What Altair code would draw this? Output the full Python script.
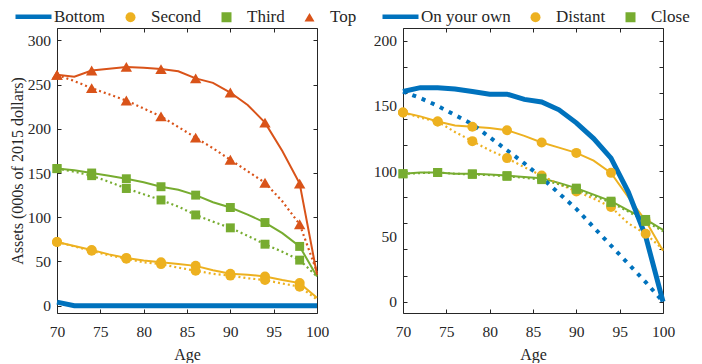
import altair as alt
import pandas as pd

# ---------------- data ----------------
ages = list(range(70, 101, 2))
marker_ages = list(range(70, 99, 4))

names = ["Bottom", "Second", "Third", "Top", "On your own", "Distant", "Close"]
colors = ["#0072BD", "#EDB120", "#77AC30", "#D95319", "#0072BD", "#EDB120", "#77AC30"]
LINE_SYMBOL = "M-3.6,0H3.6"
shapes = [LINE_SYMBOL, "circle", "square", "triangle-up", LINE_SYMBOL, "circle", "square"]
thick = ["Bottom", "On your own"]

# left panel: by wealth quartile (solid / dotted)
bottom_solid = [4, 0, 0, 0, 0, 0, 0, 0, 0, 0, 0, 0, 0, 0, 0, 0]
second_solid = [72, 67.5, 63, 58, 54, 51, 49, 47, 45, 40, 36, 35, 33, 29, 25.5, 9]
second_dotted = [72, 67, 62, 57, 53, 49, 47, 43, 39.5, 36, 34, 31, 29, 25, 21.5, 7]
third_solid = [155, 153, 150, 147, 143.5, 139.5, 134.5, 131, 125, 117, 111, 103, 94, 82, 67, 33]
third_dotted = [155, 151.5, 147, 140, 132.5, 126, 119.5, 112, 102.6, 95, 88, 79, 69.5, 61, 51.5, 33]
top_solid = [261, 259, 266, 268, 270, 269, 267.5, 265, 257, 252, 241, 227, 207, 175, 138, 35]
top_dotted = [261, 254, 246, 239, 232, 223, 214, 202, 190, 178, 165, 152, 139, 118, 92, 38]

# right panel: by family proximity (solid / dotted)
own_solid = [161, 164, 164, 163, 161, 159, 159, 155, 153, 147, 137, 125, 110, 84, 50, 0]
own_dotted = [161, 156, 150, 143, 136, 126, 116, 106, 95, 83, 71, 57, 43, 29, 15, 0]
distant_solid = [145, 142, 138, 135, 134, 133, 131.4, 127, 122, 118, 114, 108, 98.7, 80, 62, 39]
distant_dotted = [145, 141, 138, 130, 123, 116, 110, 103, 96.6, 90, 84.5, 79, 72.5, 60, 52, 40]
close_solid = [98, 99, 99, 98, 98, 97.5, 96.6, 95.5, 94.6, 91, 87, 82, 77, 70, 63, 55]
close_dotted = [98, 98.5, 99, 98, 97.5, 97, 96, 95, 93.5, 90, 86, 81, 76, 69, 61.5, 54]

x_ticks = [70, 75, 80, 85, 90, 95, 100]
left_ticks = [0, 50, 100, 150, 200, 250, 300]
right_ticks = [0, 50, 100, 150, 200]
y_title = "Assets (000s of 2015 dollars)"
x_title = "Age"

# ---------------- table ----------------
rows = []


def add(panel, series, style, vals):
    for a, v in zip(ages, vals):
        rows.append(dict(panel=panel, series=series, style=style, age=a, value=v,
                         marker=(a in marker_ages) and (series not in thick)))


add("L", "Bottom", "solid", bottom_solid)
add("L", "Second", "solid", second_solid)
add("L", "Second", "dotted", second_dotted)
add("L", "Third", "solid", third_solid)
add("L", "Third", "dotted", third_dotted)
add("L", "Top", "solid", top_solid)
add("L", "Top", "dotted", top_dotted)
add("R", "On your own", "solid", own_solid)
add("R", "On your own", "dotted", own_dotted)
add("R", "Distant", "solid", distant_solid)
add("R", "Distant", "dotted", distant_dotted)
add("R", "Close", "solid", close_solid)
add("R", "Close", "dotted", close_dotted)
df = pd.DataFrame(rows)

W, H = 260, 285
FONT = "Liberation Serif"
INK = "#262626"

color_scale = alt.Scale(domain=names, range=colors)
shape_scale = alt.Scale(domain=names, range=shapes)
# separate scale for line strokes (reversed order so it stays out of the legend)
stroke_scale = alt.Scale(domain=names[::-1], range=colors[::-1])

is_line = "(datum.value == 'Bottom' || datum.value == 'On your own')"
legend = alt.Legend(
    title=None, orient="none", legendX=-32, legendY=-20, direction="horizontal", columns=7,
    symbolSize=100,
    symbolStrokeWidth={"expr": f"{is_line} ? 4.5 : 0"},
    symbolStrokeColor={"expr": "scale('color', datum.value)"},
    symbolFillColor={"expr": "scale('color', datum.value)"},
    symbolOpacity=1,
    labelFont=FONT, labelFontSize=17, labelColor=INK, labelOffset=12,
    columnPadding=16, padding=0, symbolOffset=0,
)


def tick_axis(orient, offset):
    return alt.Axis(orient=orient, offset=offset, labels=False, ticks=True, tickSize=4,
                    tickColor=INK, tickWidth=1, domain=False, grid=False, title=None)


def panel(name, ydomain, yticks, ytitle):
    d = df[df.panel == name]
    xs = alt.Scale(domain=[70, 100], nice=False, zero=False)
    ys = alt.Scale(domain=ydomain, nice=False, zero=False)
    col = alt.Stroke("series:N", scale=stroke_scale, legend=None)

    main_x = alt.Axis(values=x_ticks, orient="bottom", ticks=False, domain=False, grid=False,
                      labelFlush=False, labelPadding=11, title=x_title, titlePadding=7)
    main_y = alt.Axis(values=yticks, orient="left", ticks=False, domain=False, grid=False,
                      labelPadding=6.5, title=ytitle, titlePadding=2)
    no_x = alt.X("age:Q", scale=xs, axis=None)
    no_y = alt.Y("value:Q", scale=ys, axis=None)

    base = alt.Chart(d)
    thin_solid = base.transform_filter(
        "datum.style == 'solid' && datum.series != 'Bottom' && datum.series != 'On your own'"
    ).mark_line(strokeWidth=2).encode(
        x=alt.X("age:Q", scale=xs, axis=main_x),
        y=alt.Y("value:Q", scale=ys, axis=main_y),
        stroke=col,
    )
    thin_dot = base.transform_filter(
        "datum.style == 'dotted' && datum.series != 'Bottom' && datum.series != 'On your own'"
    ).mark_line(strokeWidth=2.2, strokeDash=[2, 3], strokeCap="butt").encode(
        x=alt.X("age:Q", scale=xs, axis=tick_axis("top", -H)),
        y=alt.Y("value:Q", scale=ys, axis=tick_axis("right", -W)),
        stroke=col,
    )
    thick_solid = base.transform_filter(
        "datum.style == 'solid' && (datum.series == 'Bottom' || datum.series == 'On your own')"
    ).mark_line(strokeWidth=5).encode(x=no_x, y=no_y, stroke=col)
    thick_dot = base.transform_filter(
        "datum.style == 'dotted' && (datum.series == 'Bottom' || datum.series == 'On your own')"
    ).mark_line(strokeWidth=4, strokeDash=[4, 6], strokeCap="butt").encode(x=no_x, y=no_y, stroke=col)

    pt_enc = dict(
        color=alt.Color("series:N", scale=color_scale, legend=legend),
        shape=alt.Shape("series:N", scale=shape_scale, legend=legend),
    )
    circles = base.transform_filter(
        "datum.marker && (datum.series == 'Second' || datum.series == 'Distant')"
    ).mark_point(filled=True, opacity=1, strokeWidth=0, size=100).encode(
        x=alt.X("age:Q", scale=xs, axis=tick_axis("bottom", -H)),
        y=alt.Y("value:Q", scale=ys, axis=tick_axis("left", -W)),
        **pt_enc,
    )
    squares = base.transform_filter(
        "datum.marker && (datum.series == 'Third' || datum.series == 'Close')"
    ).mark_point(filled=True, opacity=1, strokeWidth=0, size=80).encode(x=no_x, y=no_y, **pt_enc)
    triangles = base.transform_filter(
        "datum.marker && datum.series == 'Top'"
    ).mark_point(filled=True, opacity=1, strokeWidth=0, size=130).encode(x=no_x, y=no_y, **pt_enc)

    return alt.layer(thin_solid, thin_dot, thick_dot, thick_solid, circles, squares, triangles).resolve_axis(
        x="independent", y="independent"
    ).properties(width=W, height=H)


left = panel("L", [-8.3, 314], left_ticks, y_title)
right = panel("R", [-8.7, 209.7], right_ticks, None)

chart = alt.hconcat(left, right, spacing=42).properties(padding=0).configure_view(
    stroke=INK, strokeWidth=1
).configure_axis(
    labelFont=FONT, labelFontSize=15.5, labelColor=INK, titleFont=FONT, titleFontSize=16,
    titleColor=INK, titleFontWeight="normal", grid=False
).configure_legend(labelFont=FONT)

chart.save("out.html", embed_options={"renderer": "svg", "actions": False})
